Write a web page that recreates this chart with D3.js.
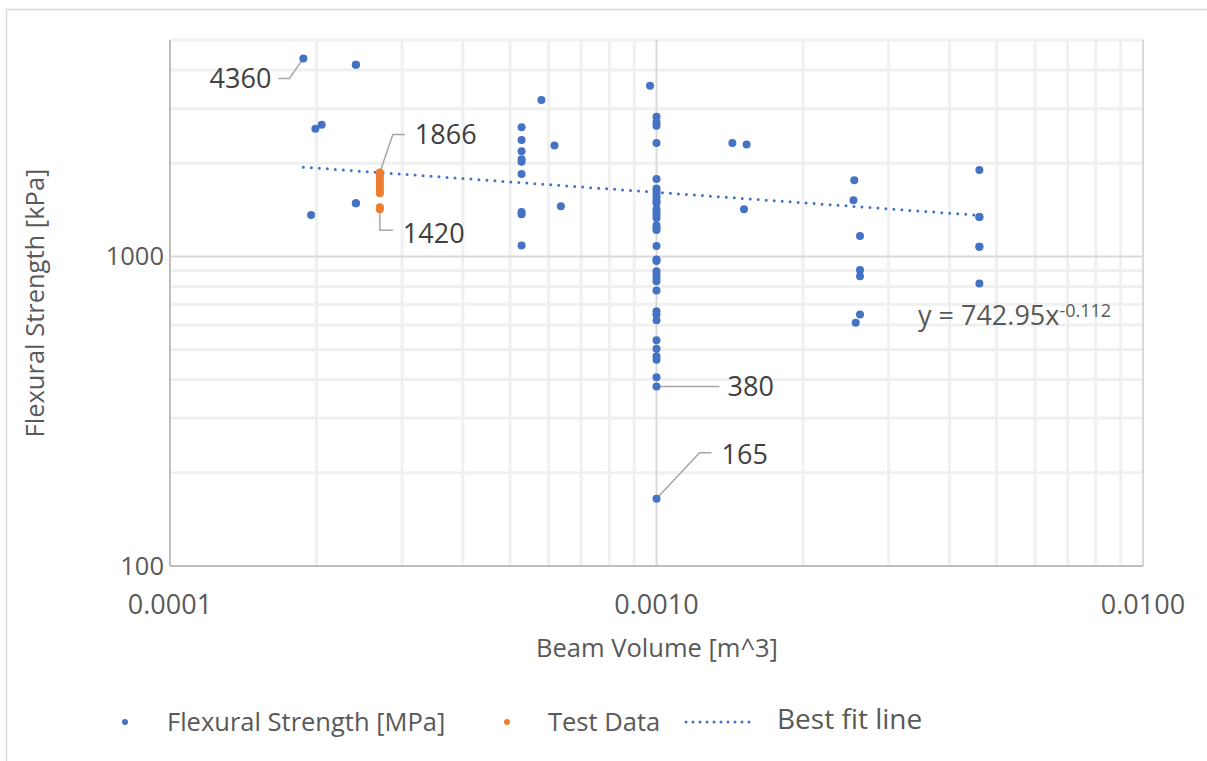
<!DOCTYPE html>
<html>
<head>
<meta charset="utf-8">
<script src="https://cdn.jsdelivr.net/npm/d3@7"></script>
<style>
  body { margin: 0; background: #fff; }
  text { font-family: 'Open Sans', sans-serif; fill: #595959; }
</style>
</head>
<body>
<div id="chart"></div>
<script>
// Flexural strength [kPa] vs beam volume [m^3]
const blueVolume = [
  0.000188, 0.000241, 0.000241, 0.000199, 0.000205, 0.000195, 0.000241, 0.000241,
  0.000528, 0.000528, 0.000528, 0.000528, 0.000528, 0.000528, 0.000528, 0.000528, 0.000528,
  0.00058, 0.000617, 0.000636, 0.00097,
  0.001, 0.001, 0.001, 0.001, 0.001, 0.001, 0.001, 0.001, 0.001, 0.001,
  0.001, 0.001, 0.001, 0.001, 0.001, 0.001, 0.001, 0.001, 0.001, 0.001,
  0.001, 0.001, 0.001, 0.001, 0.001, 0.001, 0.001, 0.001, 0.001, 0.001,
  0.001, 0.001, 0.001, 0.001, 0.001, 0.001,
  0.001432, 0.001532, 0.001513,
  0.00255, 0.00254, 0.00262, 0.00262, 0.00262, 0.00262, 0.002567,
  0.00461, 0.00461, 0.00461, 0.00461, 0.00461, 0.00461
];
const blueStrength = [
  4360, 4160, 4160, 2582, 2660, 1360, 1484, 1484,
  2615, 2378, 2187, 2061, 2020, 1846, 1391, 1368, 1085,
  3198, 2281, 1451, 3557,
  2823, 2708, 2641, 2326, 1779, 1656, 1620, 1584, 1549, 1507,
  1484, 1419, 1391, 1364, 1330, 1260, 1238, 1217, 1080, 978,
  966, 896, 874, 853, 832, 776, 665, 649, 622, 536,
  503, 476, 464, 407, 380, 165,
  2326, 2299, 1419,
  1762, 1518, 1163, 903, 863, 649, 610,
  1902, 1340, 1340, 1075, 1075, 818
];
const testVolume = [0.00027, 0.00027, 0.00027, 0.00027, 0.00027, 0.00027, 0.00027, 0.00027, 0.00027, 0.00027];
const testStrength = [1866, 1830, 1790, 1750, 1710, 1670, 1630, 1600, 1440, 1420];

// power-law trend y = a * x^b
const fitA = 742.95;
const fitB = -0.112;

const xTickValues = [0.0001, 0.001, 0.01];
const yTickValues = [100, 1000];

// callouts on single points, leader offsets in px from the point
const callouts = [
  { x: 0.000188, y: 4360, text: '4360', path: [[-14, 20], [-25, 20]], tx: -32, ty: 20, anchor: 'end' },
  { x: 0.00027, y: 1866, text: '1866', path: [[13, -38], [25, -38]], tx: 35, ty: -38, anchor: 'start' },
  { x: 0.00027, y: 1420, text: '1420', path: [[0, 21], [13, 21]], tx: 23, ty: 24, anchor: 'start' },
  { x: 0.001, y: 380, text: '380', path: [[63, 0]], tx: 71, ty: 0, anchor: 'start' },
  { x: 0.001, y: 165, text: '165', path: [[43, -46], [55, -46]], tx: 65, ty: -44, anchor: 'start' }
];

const W = 1207, H = 761;
const plot = { left: 170, right: 1143, top: 40, bottom: 566 };
const blue = '#4472C4', orange = '#ED7D31';

const svg = d3.select('#chart').append('svg')
  .attr('width', W)
  .attr('height', H);

// outer chart border
svg.append('rect')
  .attr('x', 6.5).attr('y', 9.5)
  .attr('width', W + 10).attr('height', H + 10)
  .attr('fill', 'none')
  .attr('stroke', '#d9d9d9')
  .attr('stroke-width', 1.5);

const x = d3.scaleLog().domain([1e-4, 1e-2]).range([plot.left, plot.right]);
const y = d3.scaleLog().domain([100, 5000]).range([plot.bottom, plot.top]);

const isDecade = v => Math.abs(Math.log10(v) - Math.round(Math.log10(v))) < 1e-9;

// minor gridlines
const grid = svg.append('g');
grid.selectAll('.vminor')
  .data(x.ticks().filter(v => !isDecade(v)))
  .enter().append('line')
  .attr('x1', d => x(d)).attr('x2', d => x(d))
  .attr('y1', plot.top).attr('y2', plot.bottom)
  .attr('stroke', '#f0f0f0').attr('stroke-width', 3);
grid.selectAll('.hminor')
  .data(y.ticks().filter(v => !isDecade(v)))
  .enter().append('line')
  .attr('x1', plot.left).attr('x2', plot.right)
  .attr('y1', d => y(d)).attr('y2', d => y(d))
  .attr('stroke', '#f0f0f0').attr('stroke-width', 3);

// major gridlines
grid.selectAll('.vmajor')
  .data(xTickValues)
  .enter().append('line')
  .attr('x1', d => x(d)).attr('x2', d => x(d))
  .attr('y1', plot.top).attr('y2', plot.bottom)
  .attr('stroke', '#d9d9d9').attr('stroke-width', 2);
grid.selectAll('.hmajor')
  .data(yTickValues)
  .enter().append('line')
  .attr('x1', plot.left).attr('x2', plot.right)
  .attr('y1', d => y(d)).attr('y2', d => y(d))
  .attr('stroke', '#d9d9d9').attr('stroke-width', 2);

// axis lines
svg.append('line')
  .attr('x1', plot.left).attr('x2', plot.left)
  .attr('y1', plot.top).attr('y2', plot.bottom)
  .attr('stroke', '#bfbfbf').attr('stroke-width', 2);
svg.append('line')
  .attr('x1', plot.left).attr('x2', plot.right)
  .attr('y1', plot.bottom).attr('y2', plot.bottom)
  .attr('stroke', '#bfbfbf').attr('stroke-width', 2);

// tick labels
const fmtX = d3.format('.4f');
svg.selectAll('.xlab')
  .data(xTickValues)
  .enter().append('text')
  .attr('x', d => x(d))
  .attr('y', plot.bottom + 39)
  .attr('dy', '0.35em')
  .attr('text-anchor', 'middle')
  .style('font-size', '27px')
  .text(d => fmtX(d));
svg.selectAll('.ylab')
  .data(yTickValues)
  .enter().append('text')
  .attr('x', plot.left - 6)
  .attr('y', d => y(d))
  .attr('dy', '0.35em')
  .attr('text-anchor', 'end')
  .style('font-size', '25.5px')
  .text(d => d);

// axis titles
svg.append('text')
  .attr('x', 657).attr('y', 648)
  .attr('dy', '0.35em')
  .attr('text-anchor', 'middle')
  .style('font-size', '25.5px')
  .text('Beam Volume [m^3]');
svg.append('text')
  .attr('transform', 'translate(35,' + ((plot.top + plot.bottom) / 2) + ') rotate(-90)')
  .attr('dy', '0.35em')
  .attr('text-anchor', 'middle')
  .style('font-size', '25.5px')
  .text('Flexural Strength [kPa]');

// trend line over the range of the data
const xExtent = d3.extent(blueVolume);
const fitData = xExtent.map(v => [v, fitA * Math.pow(v, fitB)]);
svg.append('path')
  .datum(fitData)
  .attr('d', d3.line().x(d => x(d[0])).y(d => y(d[1])))
  .attr('fill', 'none')
  .attr('stroke', blue)
  .attr('stroke-width', 3)
  .attr('stroke-linecap', 'round')
  .attr('stroke-dasharray', '0 8');

// leader lines and callout labels
const callG = svg.append('g');
callouts.forEach(c => {
  const px = x(c.x), py = y(c.y);
  const pts = [[px, py]].concat(c.path.map(p => [px + p[0], py + p[1]]));
  callG.append('path')
    .attr('d', d3.line()(pts))
    .attr('fill', 'none')
    .attr('stroke', '#a6a6a6')
    .attr('stroke-width', 1.5);
  callG.append('text')
    .attr('x', px + c.tx)
    .attr('y', py + c.ty)
    .attr('dy', '0.35em')
    .attr('text-anchor', c.anchor)
    .style('font-size', '27px')
    .style('fill', '#404040')
    .text(c.text);
});

// points
const blueData = blueVolume.map((v, i) => [v, blueStrength[i]]);
const testData = testVolume.map((v, i) => [v, testStrength[i]]);
svg.append('g').selectAll('circle')
  .data(blueData)
  .enter().append('circle')
  .attr('cx', d => x(d[0]))
  .attr('cy', d => y(d[1]))
  .attr('r', 4)
  .attr('fill', blue);
svg.append('g').selectAll('circle')
  .data(testData)
  .enter().append('circle')
  .attr('cx', d => x(d[0]))
  .attr('cy', d => y(d[1]))
  .attr('r', 4)
  .attr('fill', orange);

// equation label
const eq = svg.append('text')
  .attr('x', 918).attr('y', 325)
  .style('font-size', '27px')
  .style('fill', '#595959');
eq.append('tspan').text('y = ' + fitA + 'x');
eq.append('tspan')
  .attr('dy', '-0.45em')
  .style('font-size', '18px')
  .text(String(fitB));

// legend
const legend = svg.append('g');
legend.append('circle').attr('cx', 125).attr('cy', 722).attr('r', 3).attr('fill', blue);
legend.append('text').attr('x', 167).attr('y', 722).attr('dy', '0.35em')
  .style('font-size', '25.5px').text('Flexural Strength [MPa]');
legend.append('circle').attr('cx', 507).attr('cy', 722).attr('r', 3).attr('fill', orange);
legend.append('text').attr('x', 548).attr('y', 722).attr('dy', '0.35em')
  .style('font-size', '25.5px').text('Test Data');
legend.append('line')
  .attr('x1', 686).attr('x2', 750).attr('y1', 722).attr('y2', 722)
  .attr('stroke', blue).attr('stroke-width', 3)
  .attr('stroke-linecap', 'round').attr('stroke-dasharray', '0 7');
legend.append('text').attr('x', 777).attr('y', 719).attr('dy', '0.35em')
  .style('font-size', '28px').text('Best fit line');
</script>
</body>
</html>
